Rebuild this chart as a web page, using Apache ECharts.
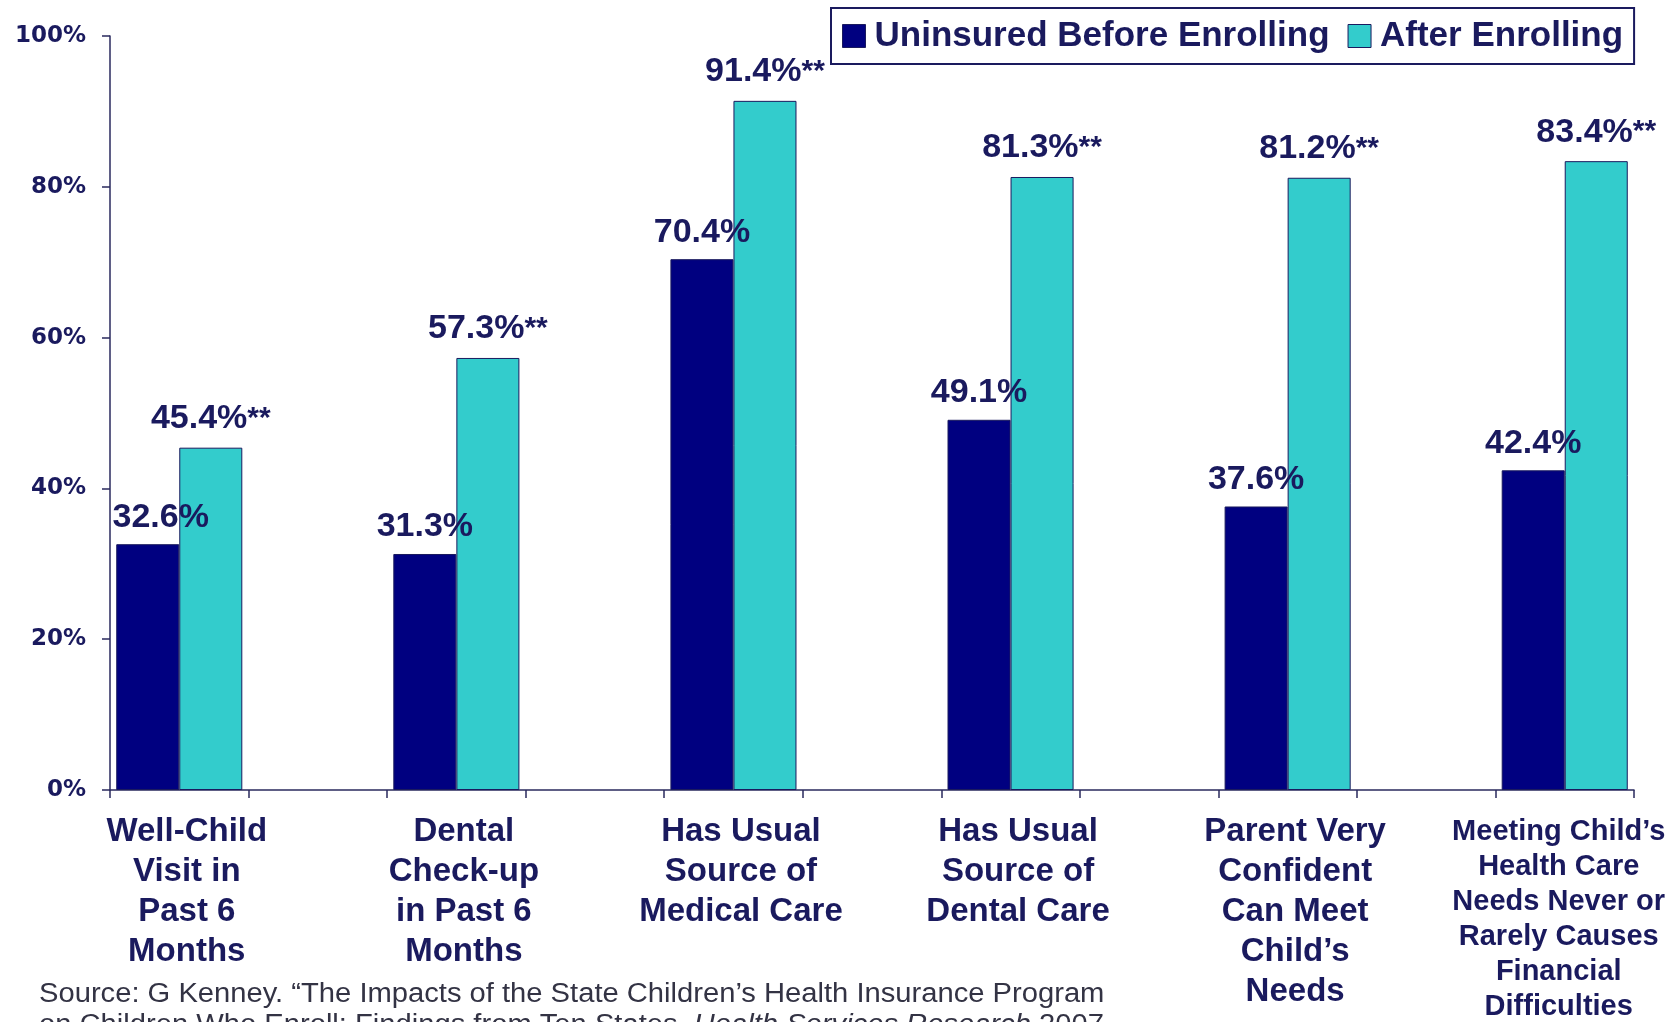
<!DOCTYPE html>
<html>
<head>
<meta charset="utf-8">
<script src="https://cdn.jsdelivr.net/npm/echarts@6/dist/echarts.min.js"></script>
<style>
  html, body { margin: 0; padding: 0; background: #ffffff; }
  #chart { width: 1671px; height: 1022px; }
</style>
</head>
<body>
<div id="chart"></div>
<script>
// Outcome measures (one bar pair per measure)
const categories = [
  'Well-Child\nVisit in\nPast 6\nMonths',
  'Dental\nCheck-up\nin Past 6\nMonths',
  'Has Usual\nSource of\nMedical Care',
  'Has Usual\nSource of\nDental Care',
  'Parent Very\nConfident\nCan Meet\nChild\u2019s\nNeeds',
  'Meeting Child\u2019s\nHealth Care\nNeeds Never or\nRarely Causes\nFinancial\nDifficulties'
];
const seriesNames = ['Uninsured Before Enrolling', 'After Enrolling'];
const beforeValues = [32.6, 31.3, 70.4, 49.1, 37.6, 42.4];
const afterValues = [45.4, 57.3, 91.4, 81.3, 81.2, 83.4];
// significance markers shown after the "after" values
const afterMarks = ['**', '**', '**', '**', '**', '**'];
const yTickValues = [0, 20, 40, 60, 80, 100];
const sourceLines = [
  'Source: G Kenney. \u201cThe Impacts of the State Children\u2019s Health Insurance Program',
  'on Children Who Enroll: Findings from Ten States. {i|Health Services Research} 2007'
];

const NAVY = '#000080';
const TEAL = '#33CCCC';
const INK = '#1a1a5e';
const SANS = "'Liberation Sans', Arial, sans-serif";

// The axis has an empty slot between measures, giving wide gaps between pairs
const slots = [];
const beforeSlots = [];
const afterSlots = [];
const markSlots = [];
categories.forEach((c, i) => {
  if (i > 0) {
    slots.push('');
    beforeSlots.push('-');
    afterSlots.push('-');
    markSlots.push('');
  }
  slots.push(c);
  // the first label is nudged right, clear of the value axis
  beforeSlots.push(i === 0 ? { value: beforeValues[i], label: { offset: [13, 0] } } : beforeValues[i]);
  afterSlots.push(afterValues[i]);
  markSlots.push(afterMarks[i]);
});
const lastCategory = categories[categories.length - 1];

const chart = echarts.init(document.getElementById('chart'), null, { renderer: 'canvas' });

const option = {
  backgroundColor: '#ffffff',
  animation: false,
  grid: { left: 110, right: 37, top: 36, bottom: 232, outerBoundsMode: 'none' },
  legend: {
    data: seriesNames,
    left: 831,
    top: 8,
    padding: [8, 11, 8, 11],
    itemGap: 18,
    itemWidth: 23,
    itemHeight: 23,
    icon: 'rect',
    borderColor: '#1a1a5e',
    borderWidth: 2,
    backgroundColor: '#ffffff',
    textStyle: {
      fontFamily: SANS,
      fontWeight: 'bold',
      fontSize: 35,
      lineHeight: 40,
      color: INK,
      padding: [0, 0, 0, 4]
    },
    itemStyle: { borderColor: '#1a1a5e', borderWidth: 1 }
  },
  xAxis: {
    type: 'category',
    data: slots,
    axisLine: { lineStyle: { color: '#2a2a5e', width: 1.5 } },
    axisTick: { show: true, interval: 0, length: 8, lineStyle: { color: '#2a2a5e', width: 1.5 } },
    axisLabel: {
      interval: 0,
      margin: 22,
      formatter: (v) => {
        if (!v) return '';
        return v === lastCategory ? '{m|' + v + '}' : '{b|' + v + '}';
      },
      rich: {
        b: {
          fontFamily: SANS,
          fontWeight: 'bold',
          fontSize: 33,
          lineHeight: 40,
          color: INK,
          align: 'center',
          padding: [0, 0, 0, 15]
        },
        m: {
          fontFamily: SANS,
          fontWeight: 'bold',
          fontSize: 29,
          lineHeight: 35,
          color: INK,
          align: 'center',
          padding: [5, 12, 0, 0]
        }
      }
    },
    splitLine: { show: false }
  },
  yAxis: {
    type: 'value',
    min: yTickValues[0],
    max: yTickValues[yTickValues.length - 1],
    interval: yTickValues[1] - yTickValues[0],
    axisLine: { show: true, lineStyle: { color: '#2a2a5e', width: 1.5 } },
    axisTick: { show: true, length: 8, lineStyle: { color: '#2a2a5e', width: 1.5 } },
    splitLine: { show: false },
    axisLabel: {
      margin: 24,
      formatter: '{value}%',
      fontFamily: "'DejaVu Sans', Verdana, sans-serif",
      fontWeight: 'bold',
      fontSize: 23,
      color: INK
    }
  },
  series: [
    {
      name: seriesNames[0],
      type: 'bar',
      data: beforeSlots,
      barGap: '0%',
      barCategoryGap: '9%',
      itemStyle: { color: NAVY, borderColor: '#1a1a5e', borderWidth: 1 },
      label: {
        show: true,
        position: 'top',
        distance: 10,
        formatter: (p) => p.value.toFixed(1) + '%',
        fontFamily: SANS,
        fontWeight: 'bold',
        fontSize: 34,
        color: INK
      }
    },
    {
      name: seriesNames[1],
      type: 'bar',
      data: afterSlots,
      barGap: '0%',
      barCategoryGap: '9%',
      itemStyle: { color: TEAL, borderColor: '#1a1a5e', borderWidth: 1 },
      label: {
        show: true,
        position: 'top',
        distance: 12,
        formatter: (p) => '{v|' + p.value.toFixed(1) + '%}{s|' + markSlots[p.dataIndex] + '}',
        rich: {
          v: {
            fontFamily: SANS,
            fontWeight: 'bold',
            fontSize: 34,
            color: INK
          },
          s: {
            fontFamily: SANS,
            fontWeight: 'bold',
            fontSize: 30,
            color: INK
          }
        }
      }
    }
  ],
  graphic: sourceLines.map((line, i) => ({
    type: 'text',
    x: 39,
    y: 981 + i * 31,
    scaleX: 1.08,
    style: {
      text: line,
      fontFamily: SANS,
      fontSize: 27,
      fill: '#333344',
      textVerticalAlign: 'top',
      rich: {
        i: { fontFamily: SANS, fontSize: 27, fontStyle: 'italic', fill: '#333344' }
      }
    }
  }))
};

chart.setOption(option);
</script>
</body>
</html>
